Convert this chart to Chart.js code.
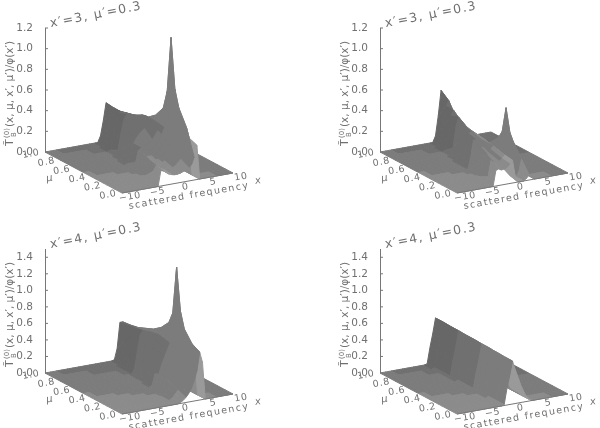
<!DOCTYPE html>
<html>
<head>
<meta charset="utf-8">
<script src="https://cdn.jsdelivr.net/npm/chart.js@4/dist/chart.umd.min.js"></script>
<style>
    html, body { margin: 0; padding: 0; background: #fff; }
    #grid { position: relative; width: 600px; height: 428px; overflow: hidden; }
    #grid div { position: absolute; width: 300px; height: 214px; }
    canvas { filter: blur(0.5px); }
</style>
</head>
<body>
<div id="grid">
    <div style="left:0;top:0"><canvas id="p1" width="300" height="214"></canvas></div>
    <div style="left:300px;top:0"><canvas id="p2" width="300" height="214"></canvas></div>
    <div style="left:0;top:214px"><canvas id="p3" width="300" height="214"></canvas></div>
    <div style="left:300px;top:214px"><canvas id="p4" width="300" height="214"></canvas></div>
</div>
<script>
// Axes
const muRows = [0, 0.1, 0.2, 0.25, 0.3, 0.35, 0.4, 0.5, 0.6, 0.7, 0.8, 0.9, 1];
const freqX3 = [-10, -3.5, -3, -2.5, -2, -1.5, -1, -0.5, 0, 0.5, 1, 2, 2.5, 3, 3.5, 4, 10];
const freqX4 = [-10, -2, -1.5, -1, -0.5, 0, 0.5, 1, 1.5, 2, 2.5, 3, 3.5, 4, 4.5, 5, 10];
const floorFreq = [-10, -9, -8, -7, -6, -5, -4, -3, -2, -1, 0, 1, 2, 3, 4, 5, 6, 7, 8, 9, 10];
const floorMu = [0, 0.1, 0.2, 0.3, 0.4, 0.5, 0.6, 0.7, 0.8, 0.9, 1];
const zTicks3 = [0, 0.2, 0.4, 0.6, 0.8, 1.0, 1.2];
const zTicks4 = [0, 0.2, 0.4, 0.6, 0.8, 1.0, 1.2, 1.4];
const freqTicks = [-10, -5, 0, 5, 10];
const muTicks = [0, 0.2, 0.4, 0.6, 0.8, 1.0];

// Surface heights, one row per muRows entry
const surfaceA = [
    [0, 0, .15, .14, .12, .10, .09, .085, .085, .09, .10, .13, .15, .22, .33, 0, 0],
    [0, 0, .10, .15, .13, .11, .10, .095, .095, .10, .12, .17, .22, .47, .36, 0, 0],
    [0, 0, .02, .15, .15, .13, .12, .12, .12, .13, .15, .22, .30, .62, .42, 0, 0],
    [0, 0, 0, .10, .16, .14, .13, .13, .13, .15, .17, .25, .33, .78, .45, 0, 0],
    [0, 0, 0, .05, .16, .15, .15, .15, .15, .17, .19, .28, .36, 1.26, .46, 0, 0],
    [0, 0, 0, .01, .12, .17, .17, .17, .18, .19, .22, .31, .37, .72, .44, 0, 0],
    [0, 0, 0, 0, .06, .17, .19, .20, .21, .22, .25, .33, .38, .54, .40, 0, 0],
    [0, 0, 0, 0, .01, .10, .19, .24, .27, .30, .32, .37, .39, .43, .33, 0, 0],
    [0, 0, 0, 0, 0, .03, .13, .24, .32, .36, .40, .40, .39, .37, .25, 0, 0],
    [0, 0, 0, 0, 0, 0, .05, .20, .33, .38, .38, .36, .35, .33, .20, 0, 0],
    [0, 0, 0, 0, 0, 0, .01, .10, .27, .35, .36, .34, .32, .30, .18, 0, 0],
    [0, 0, 0, 0, 0, 0, 0, .03, .16, .30, .36, .32, .30, .27, .15, 0, 0],
    [0, 0, 0, 0, 0, 0, 0, 0, .06, .20, .37, .30, .27, .23, .12, 0, 0]
];
const surfaceB = [
    [0, 0, .15, .16, .145, .15, .16, .19, .22, .06, 0, 0, .02, .05, .02, 0, 0],
    [0, 0, .05, .20, .18, .17, .18, .20, .23, .14, .02, 0, .04, .16, .04, 0, 0],
    [0, 0, .01, .19, .22, .20, .20, .22, .25, .20, .06, .02, .07, .28, .06, 0, 0],
    [0, 0, 0, .12, .24, .22, .21, .23, .26, .22, .09, .03, .09, .36, .07, 0, 0],
    [0, 0, 0, .05, .25, .24, .23, .24, .26, .24, .12, .04, .10, .58, .08, 0, 0],
    [0, 0, 0, .01, .20, .26, .25, .25, .26, .25, .15, .04, .09, .33, .07, 0, 0],
    [0, 0, 0, 0, .10, .27, .27, .26, .26, .26, .18, .04, .07, .25, .06, 0, 0],
    [0, 0, 0, 0, .01, .15, .29, .30, .28, .27, .23, .06, .05, .17, .04, 0, 0],
    [0, 0, 0, 0, 0, .04, .20, .33, .31, .28, .25, .12, .05, .11, .03, 0, 0],
    [0, 0, 0, 0, 0, 0, .07, .27, .36, .31, .26, .16, .08, .07, .02, 0, 0],
    [0, 0, 0, 0, 0, 0, .01, .12, .33, .38, .30, .20, .12, .05, .01, 0, 0],
    [0, 0, 0, 0, 0, 0, 0, .03, .18, .38, .43, .24, .15, .05, 0, 0, 0],
    [0, 0, 0, 0, 0, 0, 0, 0, .06, .25, .49, .28, .18, .04, 0, 0, 0]
];
const surfaceC = [
    [0, 0, 0, 0, 0, 0, .01, .03, .06, .10, .16, .25, .36, .58, .45, 0, 0],
    [0, 0, 0, 0, 0, 0, .02, .06, .10, .16, .22, .30, .42, .63, .50, 0, 0],
    [0, 0, 0, 0, 0, 0, .02, .08, .14, .21, .28, .35, .47, .76, .52, 0, 0],
    [0, 0, 0, 0, 0, 0, .01, .09, .16, .24, .31, .38, .48, .95, .53, 0, 0],
    [0, 0, 0, 0, 0, 0, 0, .08, .18, .27, .34, .42, .50, 1.46, .54, 0, 0],
    [0, 0, 0, 0, 0, 0, 0, .05, .17, .28, .36, .44, .52, .88, .53, 0, 0],
    [0, 0, 0, 0, 0, 0, 0, .02, .15, .29, .38, .46, .53, .74, .50, 0, 0],
    [0, 0, 0, 0, 0, 0, 0, 0, .07, .26, .40, .49, .55, .63, .42, 0, 0],
    [0, 0, 0, 0, 0, 0, 0, 0, .01, .15, .38, .49, .53, .56, .36, 0, 0],
    [0, 0, 0, 0, 0, 0, 0, 0, 0, .06, .28, .46, .50, .52, .30, 0, 0],
    [0, 0, 0, 0, 0, 0, 0, 0, 0, .01, .16, .40, .48, .48, .25, 0, 0],
    [0, 0, 0, 0, 0, 0, 0, 0, 0, 0, .05, .28, .46, .46, .20, 0, 0],
    [0, 0, 0, 0, 0, 0, 0, 0, 0, 0, .01, .14, .45, .45, .15, 0, 0]
];
const surfaceD = [
    [0, 0, .01, .20, .35, .52, .41, .31, .21, .13, .06, .02, 0, 0, 0, 0, 0],
    [0, 0, .01, .20, .35, .52, .41, .31, .21, .13, .06, .02, 0, 0, 0, 0, 0],
    [0, 0, .01, .20, .35, .525, .41, .31, .21, .13, .06, .02, 0, 0, 0, 0, 0],
    [0, 0, .01, .20, .35, .525, .41, .31, .21, .13, .06, .02, 0, 0, 0, 0, 0],
    [0, 0, .01, .20, .35, .53, .42, .31, .21, .13, .06, .02, 0, 0, 0, 0, 0],
    [0, 0, .01, .20, .35, .53, .42, .31, .21, .13, .06, .02, 0, 0, 0, 0, 0],
    [0, 0, .01, .20, .35, .53, .42, .31, .21, .13, .06, .02, 0, 0, 0, 0, 0],
    [0, 0, .01, .20, .36, .535, .42, .31, .21, .13, .06, .02, 0, 0, 0, 0, 0],
    [0, 0, .01, .20, .36, .535, .42, .31, .21, .13, .06, .02, 0, 0, 0, 0, 0],
    [0, 0, .01, .20, .36, .54, .42, .31, .21, .13, .06, .02, 0, 0, 0, 0, 0],
    [0, 0, .01, .20, .36, .54, .42, .31, .21, .13, .06, .02, 0, 0, 0, 0, 0],
    [0, 0, .01, .20, .36, .545, .43, .31, .21, .13, .06, .02, 0, 0, 0, 0, 0],
    [0, 0, .01, .20, .36, .545, .43, .31, .21, .13, .06, .02, 0, 0, 0, 0, 0]
];

// Oblique view of the box, in pixels
const FREQ_DX = 111, FREQ_DY = 20, MU_DX = 77, MU_DY = 41, Z_LEN = 124;
const CELL_W = 300, CELL_H = 214;
const TEXT = '#707070';
const SANS = '"DejaVu Sans", sans-serif';
const BANDS = [0x5e, 0x67, 0x70, 0x7c, 0x8b, 0x9a];
const LIMITS = [0.22, 0.36, 0.5, 0.66, 0.8];

function grayFor(i) {
    let b = 0;
    while (b < LIMITS.length && i >= LIMITS[b]) b++;
    const g = BANDS[b];
    return `rgb(${g},${g},${g})`;
}

function point(freq, mu, z, k) {
    const u = (freq + 10) / 20, v = 1 - mu;
    return { x: FREQ_DX * u + MU_DX * v, y: z - (MU_DY * v - FREQ_DY * u) * k };
}

function floorLight(u, v) {
    return 0.5 + 0.3 * (v - 0.5 * u);
}

// Shade from a slope taken over the neighbouring cells too, which keeps the bands calm
function quadShade(freqs, zs, i, j, k) {
    const j0 = Math.max(j - 1, 0), j1 = Math.min(j + 2, freqs.length - 1);
    const i0 = Math.max(i - 1, 0), i1 = Math.min(i + 2, muRows.length - 1);
    const du = (freqs[j1] - freqs[j0]) / 20 * 113, dv = (muRows[i1] - muRows[i0]) * 87;
    const sx = ((zs[i][j1] + zs[i + 1][j1]) - (zs[i][j0] + zs[i + 1][j0])) / 2 / k / du;
    const sv = -((zs[i1][j] + zs[i1][j + 1]) - (zs[i0][j] + zs[i0][j + 1])) / 2 / k / dv;
    const nx = -sx / Math.hypot(sx, sv, 1);
    const u = ((freqs[j] + freqs[j + 1]) / 2 + 10) / 20, v = 1 - (muRows[i] + muRows[i + 1]) / 2;
    return 0.42 + 0.42 * v - 0.12 * u + 0.12 * nx;
}

function polygon(pts, color) {
    return {
        data: pts.concat([pts[0]]), fill: 'shape', backgroundColor: color, borderColor: color,
        borderWidth: 1, pointRadius: 0, tension: 0, clip: false
    };
}

function mergedSteps(a, b) {
    return [...new Set(a.concat(b))].sort((p, q) => p - q);
}

// True when the surface cell holding this spot stands above the floor
function raisedAt(freqs, zs, f, m) {
    let j = freqs.findIndex((v, n) => f >= v && f <= freqs[n + 1]);
    let i = muRows.findIndex((v, n) => m >= v && m <= muRows[n + 1]);
    return !!(zs[i][j] || zs[i][j + 1] || zs[i + 1][j] || zs[i + 1][j + 1]);
}

function buildDatasets(freqs, zs, k) {
    // index 0 is painted last, so the list runs from front to back
    const surface = [];
    for (let i = 0; i < muRows.length - 1; i++) {
        for (let j = 0; j < freqs.length - 1; j++) {
            if (!(zs[i][j] || zs[i][j + 1] || zs[i + 1][j] || zs[i + 1][j + 1])) continue;
            const pts = [
                point(freqs[j], muRows[i], zs[i][j], k),
                point(freqs[j + 1], muRows[i], zs[i][j + 1], k),
                point(freqs[j + 1], muRows[i + 1], zs[i + 1][j + 1], k),
                point(freqs[j], muRows[i + 1], zs[i + 1][j], k)
            ];
            surface.push(polygon(pts, grayFor(quadShade(freqs, zs, i, j, k))));
        }
    }
    // the floor is left out under raised cells, so white shows below the front edge
    const fs = mergedSteps(floorFreq, freqs), ms = mergedSteps(floorMu, muRows);
    const floor = [];
    for (let i = 0; i < ms.length - 1; i++) {
        for (let j = 0; j < fs.length - 1; j++) {
            const f = (fs[j] + fs[j + 1]) / 2, m = (ms[i] + ms[i + 1]) / 2;
            if (raisedAt(freqs, zs, f, m)) continue;
            floor.push(polygon([
                point(fs[j], ms[i], 0, k),
                point(fs[j + 1], ms[i], 0, k),
                point(fs[j + 1], ms[i + 1], 0, k),
                point(fs[j], ms[i + 1], 0, k)
            ], grayFor(floorLight((f + 10) / 20, 1 - m))));
        }
    }
    return surface.concat(floor);
}

function rotatedText(ctx, text, x, y, angle, font, spacing) {
    ctx.save();
    ctx.translate(x, y);
    ctx.rotate(angle);
    ctx.font = font;
    ctx.letterSpacing = spacing || '0px';
    ctx.fillStyle = TEXT;
    ctx.textAlign = 'center';
    ctx.textBaseline = 'middle';
    ctx.fillText(text, 0, 0);
    ctx.restore();
}

// Box axes and slanted labels, which Chart.js scales cannot place
const boxAxes = {
    id: 'boxAxes',
    afterDraw(chart, args, opts) {
        const ctx = chart.ctx, xs = chart.scales.x, ys = chart.scales.y, k = opts.k;
        const px = p => [xs.getPixelForValue(p.x), ys.getPixelForValue(p.y)];
        const tilt = -10 * Math.PI / 180;
        ctx.save();
        ctx.strokeStyle = '#777';
        ctx.lineWidth = 1;
        ctx.beginPath();
        const [ax, az] = px(point(-10, 1, 0, k));
        const [, atop] = px(point(-10, 1, opts.zTop, k));
        ctx.moveTo(ax + 0.5, az);
        ctx.lineTo(ax + 0.5, atop);
        opts.zTicks.forEach(v => {
            const [, ty] = px(point(-10, 1, v, k));
            ctx.moveTo(ax, ty);
            ctx.lineTo(ax + 3, ty);
        });
        // front edge
        const [fx0, fy0] = px(point(-10, 0, 0, k));
        const [fx1, fy1] = px(point(10, 0, 0, k));
        ctx.moveTo(fx0, fy0);
        ctx.lineTo(fx1, fy1);
        ctx.stroke();
        ctx.restore();

        freqTicks.forEach(v => {
            const [x, y] = px(point(v, 0, 0, k));
            rotatedText(ctx, (v < 0 ? '\u2212' : '') + Math.abs(v), x + 8, y + 4, tilt, '9.5px ' + SANS, '0.7px');
        });
        muTicks.forEach(v => {
            const [x, y] = px(point(-10, v, 0, k));
            rotatedText(ctx, v.toFixed(1), x - 14, y + 2, tilt, '9.5px ' + SANS, '0.7px');
        });
        const [mx, my] = px(point(-10, 0.5, 0, k));
        rotatedText(ctx, '\u00b5', mx - 34, my + 6, tilt, 'italic 10px ' + SANS);
        const [sx, sy] = px(point(1, 0, 0, k));
        rotatedText(ctx, 'scattered frequency', sx + 6, sy + 14, tilt, '9.5px ' + SANS, '1.4px');
        const [ex, ey] = px(point(10, 0, 0, k));
        rotatedText(ctx, 'x', ex + 25, ey + 8, tilt, 'italic 10px ' + SANS);

        rotatedText(ctx, opts.title, ax + 51, az - 137, -11 * Math.PI / 180, '12.5px ' + SANS, '1.3px');

        // vertical axis name, built from pieces for the raised and lowered parts
        ctx.save();
        ctx.translate(ax - 35, az - 6);
        ctx.rotate(-Math.PI / 2);
        ctx.fillStyle = TEXT;
        ctx.textBaseline = 'middle';
        ctx.textAlign = 'left';
        ctx.font = '11px ' + SANS;
        ctx.fillText('T\u0303', 0, 0);
        ctx.font = '7px ' + SANS;
        ctx.fillText('(0)', 8, -3);
        ctx.fillText('B', 9, 4);
        ctx.font = '10.5px ' + SANS;
        ctx.fillText('(x, \u00b5, x\u2032, \u00b5\u2032)/\u03c6(x\u2032)', 19, 0);
        ctx.restore();
    }
};

function drawPanel(id, freqs, zs, zTicks, zTop, originX, originY, title) {
    const k = zTop / Z_LEN;
    new Chart(document.getElementById(id), {
        type: 'line',
        data: { datasets: buildDatasets(freqs, zs, k) },
        plugins: [boxAxes],
        options: {
            responsive: false,
            animation: false,
            events: [],
            layout: { padding: 0 },
            plugins: {
                legend: { display: false },
                tooltip: { enabled: false },
                boxAxes: { k, zTicks, zTop, title }
            },
            scales: {
                x: { type: 'linear', display: false, min: 0, max: CELL_W - originX },
                y: {
                    type: 'linear',
                    min: -(CELL_H - originY) * k,
                    max: originY * k,
                    grid: { display: false },
                    border: { display: false },
                    afterFit: s => { s.width = originX; s.paddingTop = 0; s.paddingBottom = 0; },
                    afterBuildTicks: s => { s.ticks = zTicks.map(v => ({ value: v })); },
                    ticks: {
                        autoSkip: false, padding: 4, color: TEXT, maxRotation: 0,
                        font: { size: 10.5, family: SANS },
                        callback: v => Number(v).toFixed(1)
                    }
                }
            }
        }
    });
}

const title3 = "x\u2032=3, \u00b5\u2032=0.3";
const title4 = "x\u2032=4, \u00b5\u2032=0.3";
drawPanel('p1', freqX3, surfaceA, zTicks3, 1.2, 45, 152, title3);
drawPanel('p2', freqX3, surfaceB, zTicks3, 1.2, 80, 152, title3);
drawPanel('p3', freqX4, surfaceC, zTicks4, 1.5, 45, 159, title4);
drawPanel('p4', freqX4, surfaceD, zTicks4, 1.5, 80, 159, title4);
</script>
</body>
</html>
